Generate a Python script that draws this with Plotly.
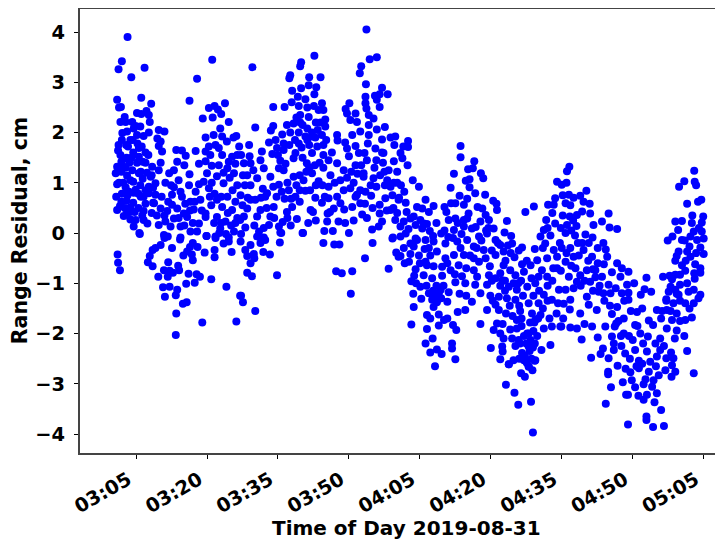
import pandas as pd
import plotly.graph_objects as go

# time = minutes after 03:00, residual = cm
seg_a = [(3.2,3.9),(2.0,3.42),(1.3,3.26),(6.8,3.29),(4.0,3.1),(17.9,3.07),(21.1,3.45),(16.3,2.63),(1.0,2.65),(6.1,2.69),(8.2,2.57),(1.8,2.51),(1.4,2.5),(5.2,2.39),(6.1,2.37),(7.2,2.43),(7.7,2.35),(7.9,2.21),(2.6,2.31),(4.2,2.21),(1.7,2.21),(2.8,2.21),(4.9,2.13),(5.9,2.12),(9.8,2.05),(11.0,2.02),(2.1,1.99),(3.1,2.02),(4.5,2.08),(7.7,2.0),(6.6,1.93),(5.2,1.95),(9.5,1.88),(10.2,1.82),(9.8,1.73),(3.8,1.85),(3.3,1.72),(1.3,1.75),(1.2,1.64),(5.6,1.69),(7.0,1.6),(10.5,1.62),(13.5,1.65),(14.7,1.64),(15.5,1.54),(17.6,1.63),(23.2,1.55),(1.7,1.55),(3.0,1.5),(4.4,1.6),(5.6,1.52),(6.4,1.42),(2.2,1.47),(3.6,1.4),(1.9,1.22),(3.1,1.14),(4.4,1.02),(2.3,1.0),(3.5,0.82),(5.5,0.78),(6.4,1.08),(7.3,1.2),(2.0,0.78),(3.0,0.64),(4.4,0.6),(5.5,0.5),(6.6,0.72),(8.6,0.9)]
seg_b = [(20.4,2.49),(21.6,2.53),(23.8,2.58),(22.3,2.46),(23.0,2.37),(19.1,2.28),(21.2,2.3),(24.6,2.21),(22.8,2.08),(23.2,1.92),(26.2,1.93),(24.2,1.82),(19.7,1.9),(21.4,1.95),(20.4,1.72),(21.8,1.75),(22.5,1.69),(19.7,1.62),(20.7,1.55),(25.3,1.52),(26.4,1.55),(18.3,1.38),(19.7,1.43),(21.0,1.34),(22.5,1.35),(24.3,1.29),(26.0,1.38),(13.7,1.42),(15.2,1.35),(13.0,1.25),(12.0,1.19),(10.2,1.4),(9.8,1.25),(8.4,1.32),(7.0,1.4),(5.6,1.19),(4.2,1.25),(2.4,1.32),(1.0,1.32),(0.7,1.19),(16.3,1.17),(20.0,1.19),(22.1,1.13),(25.7,1.19),(11.2,1.0),(8.1,1.12),(9.1,0.99),(3.8,1.05),(1.0,0.97),(7.7,0.92),(4.9,0.86),(2.8,0.91),(13.0,0.91),(16.2,0.95),(18.3,0.97),(19.3,1.02),(23.5,0.99),(26.4,0.95),(14.4,0.82),(20.4,0.89),(12.6,0.76),(17.6,0.82),(14.7,0.72),(9.1,0.76),(7.7,0.79),(0.8,0.72),(18.6,0.66),(22.1,0.66),(24.3,0.72),(26.0,0.62),(16.5,0.62),(12.6,0.56),(10.2,0.49),(8.8,0.59),(7.0,0.58),(1.6,0.54),(3.8,0.51),(1.0,0.46),(3.7,0.42),(13.7,0.49),(15.1,0.39),(17.2,0.47),(19.7,0.39),(23.2,0.52),(25.3,0.46),(6.6,0.44),(8.3,0.4),(11.6,0.44),(2.4,0.34),(3.8,0.27),(4.9,0.26),(6.6,0.26),(7.4,0.19),(4.5,0.13),(5.7,0.0),(9.8,0.16),(11.2,0.23),(13.0,0.29),(14.4,0.13),(15.8,0.32),(18.3,0.19),(19.7,0.32),(22.1,0.32),(23.9,0.23),(22.8,0.09),(25.7,0.03),(27.0,0.26),(10.9,-0.04),(14.4,-0.09),(16.5,0.03),(19.9,-0.06),(21.8,-0.07),(24.6,-0.09),(17.9,0.03),(12.3,0.13),(10.4,0.72),(11.8,0.62),(14.0,1.05),(15.4,0.58),(17.0,0.2),(20.9,0.55),(24.8,1.1),(25.4,0.85),(23.0,0.72)]
seg_c = [(1.1,-0.43),(1.2,-0.59),(1.6,-0.74),(5.8,-0.02),(10.2,-0.24),(8.5,-0.34),(9.1,-0.3),(7.9,-0.46),(7.5,-0.58),(8.5,-0.66),(11.8,-0.58),(10.9,-0.74),(12.1,-0.75),(9.7,-0.87),(11.7,-0.87),(12.8,-0.79),(13.9,-0.65),(14.1,-0.74),(16.1,-0.81),(17.8,-0.82),(18.5,-0.87),(17.4,-0.99),(15.6,-1.01),(20.9,-0.92),(24.1,-1.07),(10.7,-1.08),(12.1,-1.07),(13.7,-1.13),(13.4,-1.24),(11.1,-1.27),(15.7,-1.38),(14.9,-1.41),(13.5,-1.6),(19.0,-1.78),(26.2,-1.76),(13.4,-2.03),(27.0,-1.25),(12.6,-0.3),(15.0,-0.45),(17.0,-0.54),(15.8,-0.37),(19.5,-0.39),(21.6,-0.34),(21.6,-0.48),(25.2,-0.38),(23.5,-0.21),(24.6,-0.17),(19.9,-0.06),(21.8,-0.1),(14.3,-0.13),(11.0,-0.1),(11.7,-0.07),(17.0,-0.2),(16.4,-0.28),(18.0,-0.28),(16.8,-0.43)]
seg_d = [(29.6,3.3),(34.0,2.51),(36.4,2.51),(37.6,3.14),(37.4,3.08),(38.0,2.83),(39.9,3.4),(39.7,3.32),(39.9,2.88),(37.9,2.6),(39.2,2.71),(42.7,3.53),(41.6,3.1),(44.0,3.1),(41.5,2.94),(43.1,2.9),(42.7,2.76),(40.8,2.66),(44.3,2.58),(41.2,2.5),(42.6,2.53),(44.6,2.45),(39.4,2.53),(53.7,4.05),(54.4,3.46),(55.9,3.5),(52.6,3.32),(52.3,3.18),(53.6,2.96),(57.0,2.89),(58.2,2.76),(53.5,2.71),(55.5,2.73),(56.5,2.76),(50.1,2.58),(49.3,2.47),(53.5,2.58),(53.7,2.48),(56.5,2.51),(55.9,2.65),(49.6,2.38),(51.4,2.38),(50.3,2.25),(51.7,2.21),(54.2,2.35),(55.2,2.28),(54.2,2.15),(39.7,2.35),(41.5,2.31),(43.6,2.45),(41.2,2.08),(39.4,2.0),(42.2,1.92),(41.2,1.85),(40.2,2.15),(38.9,2.3),(43.0,2.2)]
seg_e = [(30.2,2.1),(34.0,2.13),(33.5,2.04),(35.9,1.96),(36.9,2.15),(38.3,2.18),(39.7,2.2),(37.6,2.0),(34.5,1.85),(33.1,1.8),(36.2,1.78),(34.8,1.69),(31.6,1.62),(29.0,1.53),(33.8,1.57),(36.2,1.65),(39.4,1.78),(40.8,1.92),(42.2,2.0),(44.0,2.2),(45.0,2.26),(45.0,2.12),(47.5,1.95),(47.6,1.84),(45.2,1.85),(44.3,1.95),(43.3,1.72),(38.7,1.59),(42.2,1.59),(46.4,1.6),(49.2,1.8),(49.6,1.68),(50.7,1.95),(51.4,1.73),(52.4,2.02),(54.2,1.95),(54.0,1.78),(55.9,2.06),(57.6,2.11),(57.0,1.86),(55.6,1.68),(58.8,1.9),(59.8,1.92),(59.6,1.75),(57.3,1.59),(53.3,1.59),(52.1,1.59),(31.3,1.45),(29.2,1.39),(35.5,1.44),(38.3,1.49),(41.1,1.39),(43.8,1.4),(45.7,1.45),(50.0,1.53),(47.5,1.39),(53.8,1.45),(57.2,1.4),(59.5,1.43),(55.4,1.3),(51.4,1.35),(27.8,1.39),(32.0,1.29),(35.2,1.29),(38.3,1.12),(36.2,1.25),(42.2,1.19),(46.1,1.15),(48.9,1.25),(53.1,1.19),(57.5,1.22),(60.2,1.22),(28.5,1.15),(30.6,1.09),(33.4,1.12),(35.2,0.96),(29.2,0.95),(38.9,0.95),(40.4,1.05),(43.6,1.03),(45.7,0.92),(48.2,1.05),(51.0,1.0),(55.2,1.09),(58.1,1.05),(59.5,1.0),(53.1,1.12),(55.8,0.92),(50.3,0.89),(27.1,0.75),(29.2,0.66),(32.7,0.79),(37.3,0.85),(40.8,0.84),(34.7,0.72),(38.7,0.72),(32.3,0.72),(42.9,0.7),(47.5,0.72),(45.7,0.69),(44.3,0.6),(53.5,0.82),(54.7,0.74),(51.7,0.76),(57.7,0.69),(60.5,0.66),(58.8,0.92),(30.2,0.66),(31.3,0.46),(28.5,0.49),(34.1,0.52),(36.9,0.42),(38.0,0.52),(41.9,0.46),(42.4,0.42),(48.2,0.59),(49.0,0.47),(50.7,0.52),(52.4,0.59),(52.8,0.37),(56.5,0.56),(56.5,0.39),(58.8,0.46),(46.8,0.49),(45.5,0.39),(33.4,0.33),(30.6,0.33),(27.8,0.33),(33.1,0.16),(37.7,0.15),(35.2,0.13),(45.4,0.23),(47.8,0.23),(57.0,0.23),(59.8,0.26),(28.1,0.11),(35.5,0.01),(31.0,0.03),(40.2,0.0),(44.8,0.04),(46.6,0.04),(50.0,0.0),(54.9,0.07),(56.3,0.13),(59.3,-0.09),(32.0,-0.09),(34.0,0.92),(36.4,0.68),(39.6,0.62),(41.0,1.22),(44.6,1.3),(47.0,1.0),(43.0,0.95),(31.8,0.88),(28.0,0.95),(29.8,1.25)]
seg_f = [(35.7,0.0),(40.3,0.0),(27.1,-0.17),(30.6,-0.07),(32.3,-0.14),(31.3,-0.2),(29.2,-0.24),(35.4,-0.19),(44.6,-0.2),(46.9,-0.23),(48.0,-0.23),(55.0,-0.2),(59.2,-0.11),(28.1,-0.34),(29.9,-0.42),(31.9,-0.38),(33.3,-0.43),(28.5,-0.46),(30.0,-0.5),(29.2,-0.6),(53.4,-0.5),(60.0,-0.39),(60.5,-0.47),(58.4,-0.71),(28.5,-0.79),(29.5,-0.86),(34.8,-0.84),(47.3,-0.76),(48.5,-0.8),(50.7,-0.76),(50.4,-1.21),(27.2,-1.25),(27.6,-1.38),(30.2,-1.55)]
seg_g1 = [(62.5,1.83),(61.5,1.72),(62.5,1.71),(60.9,1.59),(61.3,1.49),(73.6,1.73),(73.6,1.51),(76.5,1.43),(75.2,1.27),(76.2,1.29),(72.2,1.18),(77.9,1.19),(78.4,1.09),(75.5,1.07),(74.7,1.04),(71.5,0.9),(75.5,0.91),(76.7,0.79),(78.8,0.76),(73.4,0.74),(75.0,0.68),(71.6,0.59),(72.5,0.59),(74.3,0.56),(70.2,0.52),(67.9,0.54),(80.5,0.64),(81.2,0.58),(81.3,0.46),(77.2,0.52),(78.2,0.49),(70.6,0.42),(71.1,0.26),(72.5,0.29),(75.3,0.39),(75.0,0.29),(78.9,0.36),(79.6,0.26),(83.4,0.24),(87.3,0.42),(89.1,0.53),(92.1,0.56),(93.6,0.69),(94.0,1.02),(93.3,0.56),(91.7,0.26),(93.6,0.19),(62.2,0.42),(63.7,0.33),(65.5,0.49),(64.4,0.52),(66.9,0.42),(65.1,0.26),(65.8,0.19),(63.0,0.29),(64.1,0.16),(65.5,0.09),(61.6,0.23),(60.9,0.13),(62.0,-0.01),(60.9,-0.07),(63.0,-0.21),(64.1,-0.11),(63.7,-0.27),(67.1,0.04),(69.5,-0.01),(70.2,0.05),(72.2,0.06),(74.3,0.13),(76.0,0.09),(77.8,0.23),(74.3,0.26),(80.6,0.09),(82.9,0.01),(84.3,-0.06),(84.5,-0.21),(86.6,-0.29),(85.9,-0.35),(89.3,-0.32),(85.0,-0.48),(83.1,-0.55),(82.7,-0.64),(91.2,0.06),(90.5,-0.07),(91.5,-0.21),(93.3,-0.34),(94.0,-0.47),(91.9,-0.5),(89.8,-0.54),(88.4,-0.64),(61.0,0.95),(61.7,0.82),(60.6,0.7),(62.4,1.35),(63.5,1.05),(64.8,0.92),(66.2,0.66),(62.0,0.6),(73.0,0.2),(76.8,0.12),(79.0,0.05),(73.8,-0.02),(71.0,-0.08),(67.8,-0.06)]
seg_g2 = [(64.4,-0.14),(66.2,-0.14),(67.9,-0.17),(70.4,-0.21),(72.9,-0.17),(75.0,-0.14),(77.5,-0.07),(79.2,-0.01),(81.0,-0.14),(82.0,-0.24),(82.7,-0.37),(81.0,-0.44),(78.5,-0.34),(76.4,-0.27),(74.3,-0.44),(72.2,-0.44),(70.4,-0.5),(68.6,-0.37),(66.9,-0.3),(63.0,-0.42),(62.7,-0.57),(60.9,-0.46),(66.2,-0.57),(67.9,-0.66),(69.7,-0.67),(71.5,-0.74),(73.2,-0.64),(73.9,-0.86),(76.4,-0.74),(77.5,-0.57),(78.9,-0.5),(79.8,-0.66),(64.1,-0.72),(66.5,-0.64),(63.2,-0.96),(65.8,-0.84),(67.6,-0.9),(69.7,-0.85),(72.5,-0.98),(74.6,-1.0),(77.1,-0.87),(76.7,-1.03),(79.6,-0.84),(82.0,-0.8),(84.1,-0.74),(87.0,-0.77),(85.2,-0.84),(81.0,-0.9),(79.2,-1.03),(82.4,-0.94),(89.4,-1.0),(91.9,-0.87),(94.0,-0.7),(94.4,-1.13),(90.8,-0.74),(90.1,-0.87),(63.6,-1.21),(65.1,-1.07),(66.9,-1.2),(69.4,-1.13),(71.1,-1.18),(73.4,-1.21),(74.8,-1.25),(77.8,-1.2),(79.9,-1.25),(81.7,-1.27),(83.8,-1.07),(85.5,-1.13),(87.7,-1.07),(65.3,-1.31),(68.3,-1.33),(70.8,-1.37),(67.9,-1.47),(76.0,-1.37),(74.6,-1.53),(73.0,-1.57),(63.7,-1.47),(79.2,-1.53),(81.0,-1.43),(81.7,-1.53),(83.4,-1.3),(85.2,-1.33),(88.0,-1.4),(91.2,-1.23),(92.9,-1.33),(90.1,-1.4),(90.5,-1.63),(93.9,-1.6),(63.2,-1.82),(66.5,-1.63),(67.2,-1.7),(69.0,-1.62),(70.8,-1.7),(70.1,-1.73),(69.0,-1.84),(66.5,-1.91),(72.0,-1.83),(72.7,-1.93),(77.8,-1.81),(81.3,-1.8),(82.5,-1.81),(80.6,-1.93),(82.0,-2.0),(85.5,-1.73),(88.7,-1.6),(89.4,-1.73),(84.1,-1.92),(85.5,-1.9),(87.7,-2.0),(91.2,-1.9),(92.9,-1.86),(94.7,-1.86),(67.7,-2.1),(66.2,-2.2),(71.8,-2.2),(71.8,-2.3),(68.6,-2.32),(67.2,-2.38),(69.6,-2.41),(72.5,-2.51),(68.2,-2.65),(80.0,-2.29),(82.7,-2.1),(82.4,-2.26),(82.5,-2.36),(84.5,-2.1),(85.9,-2.13),(88.4,-2.13),(88.0,-2.26),(86.6,-2.39),(87.0,-2.53),(92.6,-2.23),(90.7,-2.33),(82.0,-2.51),(84.8,-2.53),(83.8,-2.61),(88.0,-2.66),(89.4,-2.53)]
seg_h = [(83.2,-3.02),(85.0,-3.18),(85.8,-3.42),(88.5,-3.36),(88.9,-3.97),(86.4,-2.79),(87.2,-2.86),(88.8,-2.73),(88.0,-2.65),(89.3,-2.54),(83.8,-2.61),(87.5,-2.2),(88.2,-2.35),(87.2,-2.45),(88.6,-2.5),(87.6,-2.58),(88.9,-2.28),(89.3,-2.2),(88.0,-2.0),(89.0,-1.95),(89.8,-2.05),(87.0,-2.05),(86.5,-1.85),(89.2,-1.78),(88.3,-1.78),(67.8,-1.15),(68.5,-1.05),(69.0,-1.2),(68.2,-1.25),(67.6,-1.33),(69.5,-1.3),(70.0,-1.05),(68.6,-1.38),(84.0,-1.45),(86.2,-1.55),(84.8,-1.0),(86.4,-0.95),(83.0,-1.15),(92.0,-1.05),(93.0,-0.95),(91.0,-1.5),(92.4,-1.7),(90.2,-1.15),(89.0,-1.25),(88.6,-0.9),(87.6,-0.55),(86.6,-0.62)]
seg_i = [(96.6,1.32),(96.1,1.23),(96.0,1.0),(95.0,0.96),(100.2,0.84),(96.5,0.76),(97.5,0.7),(98.9,0.74),(99.6,0.62),(100.9,0.58),(95.8,0.59),(104.9,0.39),(101.0,0.39),(99.3,0.43),(98.2,0.36),(96.7,0.33),(103.5,0.23),(101.7,0.16),(105.1,0.11),(106.7,0.08),(98.1,0.14),(96.1,0.16),(100.0,-0.03),(97.8,-0.05),(95.8,0.0),(101.5,-0.09),(100.7,-0.2),(99.3,-0.2),(96.8,-0.3),(104.3,-0.33),(99.6,-0.34),(101.4,-0.47),(104.6,-0.47),(97.5,-0.47),(95.8,-0.57),(106.7,-0.6),(103.9,-0.62),(107.7,-0.7),(109.1,-0.77),(105.6,-0.78),(102.1,-0.74),(100.3,-0.74),(97.9,-0.7),(112.9,-0.89),(116.4,-0.87),(107.4,-0.87),(103.5,-0.87),(102.1,-0.88),(96.5,-0.87),(98.9,-0.84),(110.3,-1.0),(108.8,-1.03),(104.9,-1.03),(101.0,-0.97),(98.2,-0.97),(95.8,-1.13),(97.5,-1.1),(112.5,-1.12),(113.9,-1.17),(111.7,-1.23),(109.1,-1.19),(107.7,-1.2),(105.3,-1.2),(102.8,-1.17),(100.3,-1.27),(123.0,1.24),(120.9,1.03),(119.8,0.92),(123.1,1.02),(123.4,0.95),(121.5,0.58),(123.8,0.62),(124.5,0.66),(119.0,0.23),(120.4,0.24),(122.6,0.35),(122.5,0.2),(124.9,0.33),(124.6,0.21),(119.6,0.06),(122.9,0.03),(124.6,0.03),(118.4,-0.07),(117.4,-0.15),(120.4,-0.14),(122.2,-0.07),(125.0,-0.11),(123.6,-0.14),(122.0,-0.27),(119.7,-0.37),(124.3,-0.29),(121.5,-0.37),(119.3,-0.46),(125.0,-0.42),(122.2,-0.47),(120.4,-0.64),(123.2,-0.62),(124.3,-0.7),(121.1,-0.75),(119.0,-0.83),(124.3,-0.79),(123.1,-0.91),(120.0,-0.83),(118.3,-0.92),(118.0,-1.07),(120.0,-1.03),(121.5,-1.0),(119.0,-1.13),(122.9,-1.13),(117.6,-1.17),(119.7,-1.23),(124.3,-1.23),(121.8,-1.17),(117.1,-1.32),(95.2,0.35),(94.8,0.1),(95.0,-0.3),(94.8,-0.75),(97.0,0.05),(98.6,-0.45),(102.6,-0.3),(99.0,-1.05),(96.8,0.55),(103.0,-1.05),(106.4,-1.1)]
seg_j = [(122.9,-1.4),(123.9,-1.3),(121.1,-1.4),(119.3,-1.21),(117.1,-1.35),(118.6,-1.4),(115.1,-1.53),(117.2,-1.53),(119.3,-1.6),(122.5,-1.68),(121.1,-1.73),(118.3,-1.73),(113.4,-1.74),(110.9,-1.57),(112.0,-1.5),(109.1,-1.33),(106.7,-1.47),(105.6,-1.61),(108.1,-1.7),(102.4,-1.53),(100.7,-1.43),(98.9,-1.6),(96.8,-1.33),(95.4,-1.41),(96.7,-1.52),(95.3,-1.7),(94.9,-1.86),(96.8,-1.88),(98.2,-1.9),(99.8,-1.81),(101.4,-1.86),(102.6,-2.08),(104.2,-1.86),(106.2,-1.86),(110.5,-1.83),(114.3,-1.83),(117.2,-1.9),(119.3,-1.94),(120.9,-2.05),(118.9,-2.1),(99.2,-2.12),(103.7,-2.3),(106.0,-2.2),(108.1,-2.0),(111.6,-2.0),(113.2,-2.06),(115.8,-2.1),(110.0,-2.13),(105.6,-2.06),(103.2,-2.41),(101.2,-2.48),(104.9,-2.49),(106.8,-2.64),(106.0,-2.33),(108.4,-2.4),(110.5,-2.33),(113.0,-2.36),(115.8,-2.33),(118.1,-2.38),(121.5,-2.35),(117.1,-2.49),(118.6,-2.49),(111.3,-2.54),(113.7,-2.56),(115.1,-2.46),(118.3,-2.63),(114.9,-2.65),(116.9,-2.73),(119.0,-2.76),(122.9,-2.79),(118.2,-2.86),(104.8,-2.76),(104.8,-2.81),(109.5,-2.77),(111.3,-2.69),(113.4,-2.76),(115.5,-2.83),(112.7,-2.91),(114.4,-2.93),(109.8,-2.93),(107.9,-2.97),(110.5,-3.07),(112.3,-3.01),(114.1,-3.06),(105.4,-3.07),(108.6,-3.22),(109.0,-3.22),(111.2,-3.24),(113.0,-3.22),(115.1,-3.19),(112.3,-3.32),(114.6,-3.37),(104.3,-3.4),(116.0,-3.52),(112.9,-3.65),(112.9,-3.72),(109.0,-3.81),(114.3,-3.86),(116.6,-3.84),(107.0,-1.75),(109.6,-1.55),(104.0,-1.35),(101.6,-1.15),(111.0,-1.85),(116.0,-1.7),(107.6,-2.25),(112.2,-2.2),(109.4,-2.5),(116.6,-2.25),(120.0,-1.75)]
seg_k = [(2.0,1.85),(2.9,1.75),(4.3,1.85),(5.3,1.78),(6.2,1.72),(4.0,1.5),(1.9,1.42),(2.8,1.3),(5.2,1.4),(6.0,1.22),(7.6,1.55),(8.3,1.15),(7.0,0.85),(5.9,0.95),(6.0,0.72),(3.2,0.75),(4.5,0.8),(3.1,0.4),(2.6,0.5),(4.7,0.42),(6.3,0.35),(8.6,0.6),(9.4,0.35),(1.4,1.0),(1.9,0.62),(11.0,0.35),(12.4,0.95),(14.0,0.3),(15.2,0.15),(16.4,0.45),(17.4,0.62),(18.9,0.45),(20.6,0.72),(21.5,0.2),(23.0,0.2),(24.4,0.4),(25.1,0.15),(26.4,0.3),(27.5,0.55),(21.0,1.0),(21.6,0.78),(23.5,1.2),(24.6,1.42),(27.2,1.55),(27.6,1.15),(28.9,1.75),(25.6,1.9),(26.8,1.72),(22.6,0.0),(24.0,-0.02),(26.0,0.2),(27.2,-0.02),(28.6,0.7),(30.0,0.15),(31.4,0.7),(32.6,0.5),(35.0,1.55),(36.6,1.38),(37.4,1.75),(38.6,1.85),(40.0,1.7),(41.6,1.75),(42.9,1.9),(43.4,2.05),(44.6,1.75),(40.2,1.5),(41.6,1.3),(42.8,1.35),(44.6,1.55),(39.6,1.15),(37.0,1.0),(35.8,0.82),(37.8,0.68),(39.6,0.85),(41.8,0.85),(44.4,0.95),(44.9,0.72),(46.0,0.42),(43.0,0.25),(39.0,0.28),(41.4,0.2),(37.0,0.3),(34.2,0.3),(36.0,0.22),(32.0,0.1),(48.9,0.85),(49.6,1.1),(50.5,1.22),(51.8,1.18),(52.6,1.35),(52.4,0.85),(53.4,0.58),(54.6,0.95),(55.8,1.45),(56.6,1.15),(57.6,0.95),(58.4,1.25),(59.2,0.75),(60.2,1.0),(60.2,0.4),(59.4,0.5),(58.0,0.45),(55.0,0.5),(53.8,0.3),(51.0,0.25),(49.2,0.2),(51.4,0.72),(57.0,1.6),(62.6,0.08),(66.5,0.18),(68.5,0.2),(66.0,-0.32),(67.2,-0.45),(64.8,-0.45),(61.6,-0.3),(61.8,-0.6),(65.0,-0.6),(64.2,-1.0),(66.4,-1.05),(63.8,-0.85),(70.8,-0.6),(72.0,-0.1),(73.6,-0.3),(75.6,-0.45),(76.4,-0.5),(78.0,-0.15),(79.5,0.1),(80.2,-0.35),(81.5,-0.2),(83.6,-0.25),(77.0,-0.3),(74.8,-0.7),(72.4,-0.82),(80.2,-0.95),(83.0,-0.95),(85.8,-1.0),(84.2,-0.4),(86.8,-1.25),(86.5,-1.7),(82.0,-1.05),(80.4,-1.35),(83.2,-1.6),(84.6,-1.65),(86.0,-1.45),(85.2,-2.25),(86.0,-2.5),(86.2,-2.2),(91.0,-0.3),(92.6,-0.05),(93.2,-0.7),(94.6,-0.2),(92.0,-1.35),(94.2,-1.4),(90.0,-1.7),(92.0,0.1),(93.0,0.4),(95.2,0.75),(97.4,0.25),(98.4,-0.2),(100.6,-0.55),(102.6,-0.6),(103.8,-0.2),(97.0,-0.65),(96.0,-0.4),(99.8,-0.95),(101.6,-0.72),(103.8,-1.2),(105.2,-1.45),(108.2,-1.35),(106.5,-1.8),(109.2,-2.05),(107.5,-2.05),(108.5,-2.7),(110.8,-2.65),(112.0,-2.6),(114.8,-2.2),(116.2,-1.55),(118.0,-1.55),(120.0,-1.35),(122.0,-1.5),(119.0,-0.55),(121.0,-0.15),(123.4,-0.4),(124.0,0.1),(121.2,-0.55),(123.0,-0.8),(117.8,-0.85)]
all_segments = [seg_a, seg_b, seg_c, seg_d, seg_e, seg_f, seg_g1, seg_g2, seg_h, seg_i, seg_j, seg_k]

tick_labels = ["03:05","03:20","03:35","03:50","04:05","04:20","04:35","04:50","05:05"]
y_ticks = [-4,-3,-2,-1,0,1,2,3,4]
day = "2019-08-31"

pts = [p for s in all_segments for p in s]
base = pd.Timestamp(day + " 03:00:00")
x = [base + pd.Timedelta(minutes=p[0]) for p in pts]
y = [p[1] for p in pts]
tickvals = [pd.Timestamp(f"{day} {t}:00") for t in tick_labels]

FONT = "DejaVu Sans"
AX = "#444444"
fig = go.Figure(go.Scatter(x=x, y=y, mode="markers", cliponaxis=False,
    marker=dict(color="#0000ff", size=8, line=dict(width=0)), showlegend=False))
fig.update_layout(
    width=715, height=533, autosize=False,
    margin=dict(l=71.5, r=0, t=1, b=88, pad=0),
    paper_bgcolor="white", plot_bgcolor="white",
    font=dict(family=FONT, color="black"),
    annotations=[
        dict(text="<b>Time of Day 2019-08-31</b>", xref="paper", yref="paper",
             x=0.5074, y=-0.1689, xanchor="center", yanchor="middle", showarrow=False,
             font=dict(size=20, family=FONT)),
        dict(text="<b>Range Residual, cm</b>", xref="paper", yref="paper",
             x=-0.093, y=0.5, xanchor="center", yanchor="middle", textangle=-90, showarrow=False,
             font=dict(size=20.5, family=FONT)),
    ],
)
fig.update_xaxes(
    type="date", range=[f"{day} 02:53:09", f"{day} 05:09:05"], automargin=False,
    tickmode="array", tickvals=tickvals, ticktext=[f"<b>{t}</b>" for t in tick_labels],
    tickangle=-30, ticks="outside", ticklen=4, tickwidth=1, tickcolor="black",
    tickfont=dict(size=19.4, family=FONT), showgrid=False, zeroline=False,
    ticklabelshift=-8, ticklabelstandoff=2,
    showline=True, linecolor=AX, linewidth=2, mirror=True,
)
fig.update_yaxes(
    range=[-4.378, 4.458], automargin=False, tickmode="array", tickvals=y_ticks,
    ticktext=[f"<b>{v}</b>".replace("-", "\u2212") for v in y_ticks],
    ticks="outside", ticklen=4, tickwidth=1, tickcolor="black",
    tickfont=dict(size=19.4, family=FONT), showgrid=False, zeroline=False,
    ticklabelstandoff=5,
    showline=True, linecolor=AX, linewidth=2, mirror=False,
)
fig.write_html("out.html")
